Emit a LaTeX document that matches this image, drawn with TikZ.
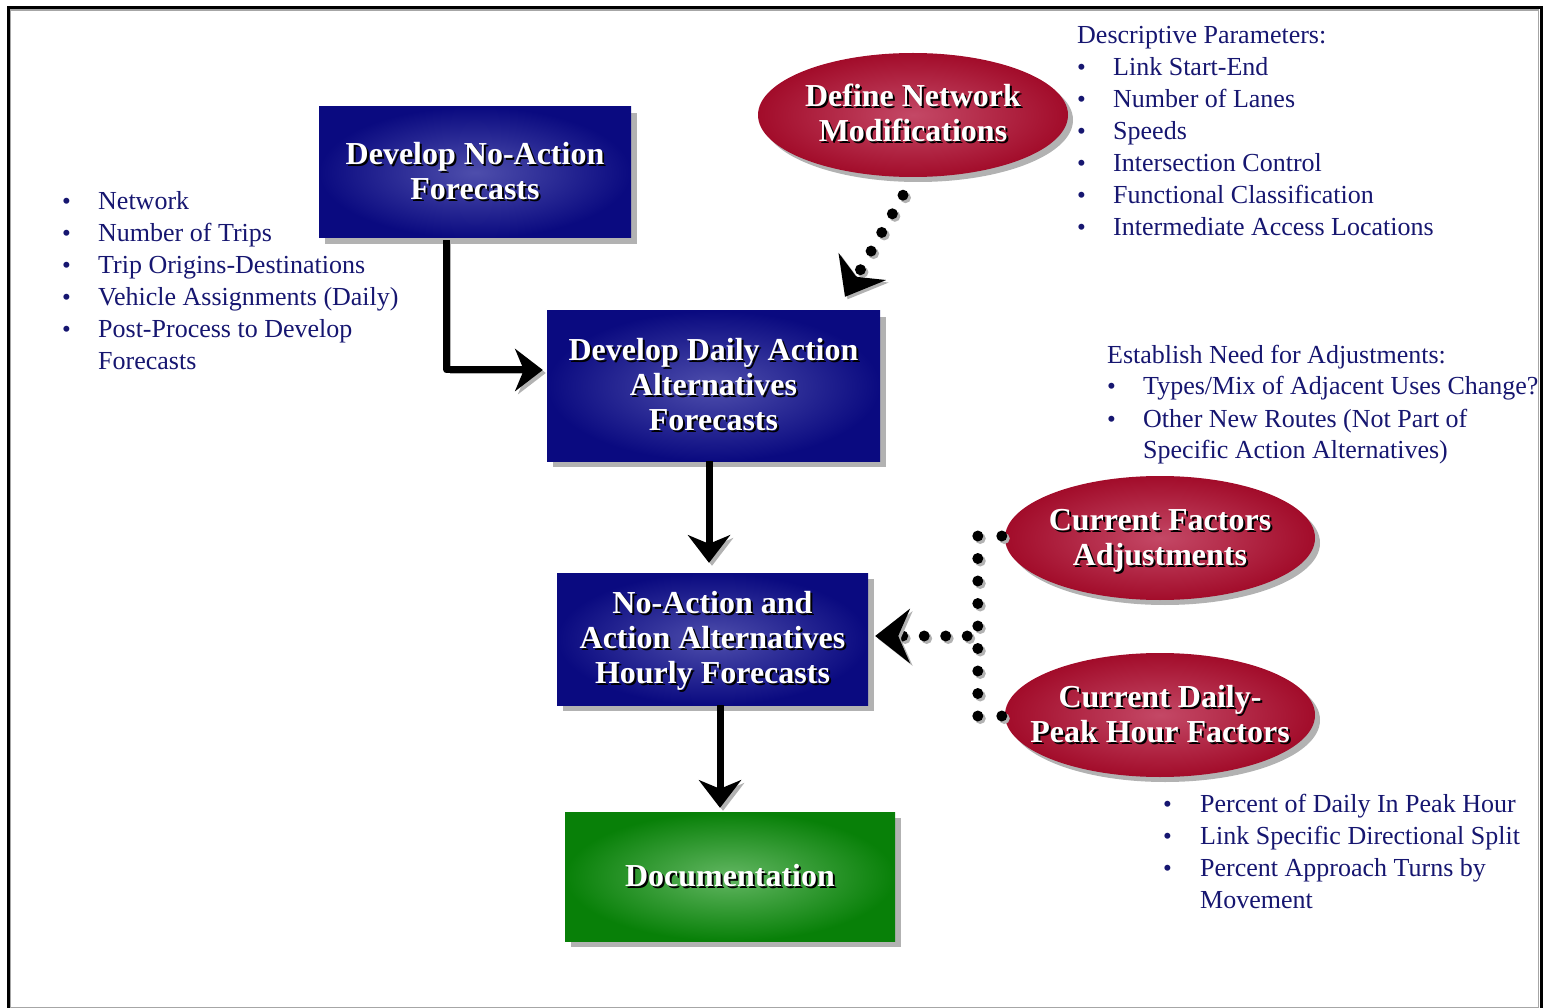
\documentclass[tikz,border=0pt]{standalone}
\usepackage{fontspec}
\setmainfont{Liberation Serif}
\usetikzlibrary{arrows.meta,calc,shapes.geometric,shadows}

\definecolor{navyout}{RGB}{10,10,128}
\definecolor{navyin}{RGB}{78,78,172}
\definecolor{redout}{RGB}{162,12,42}
\definecolor{redin}{RGB}{196,72,102}
\definecolor{greenout}{RGB}{8,128,8}
\definecolor{greenin}{RGB}{98,182,98}
\definecolor{listblue}{RGB}{22,22,112}

% white lettering with a black drop behind it
\newcommand\embossed[1]{\raisebox{0pt}[\dimexpr\height+7pt\relax][\depth]{%
  \rlap{\color{black}\kern2pt\raisebox{-2pt}{\begin{tabular}{@{}c@{}}#1\end{tabular}}}%
  \begin{tabular}{@{}c@{}}#1\end{tabular}}}
\newcommand\bul{{\fontsize{25}{25}\selectfont\textbullet}}

% the dotted feeds, drawn once for the shadow and once in black
\newcommand\feeddots{%
  \foreach \f in {0,0.1833,0.3666,0.55,0.7333}
    \fill ($(netstart)!\f!(nettip)$) circle[radius=5.5];
  \foreach \f in {0,0.125,...,1}
    \fill ($(forktop)!\f!(forkbot)$) circle[radius=5.5];
  \fill ($(forktop)+(24,0)$) circle[radius=5.5];
  \fill ($(forkbot)+(24,0)$) circle[radius=5.5];
  \foreach \f in {0,0.2337,0.4674,0.701}
    \fill ($(fork)!\f!(hourtip)$) circle[radius=5.5];
}

\tikzset{
  box/.style={inner sep=0pt, text=white, font=\fontsize{32}{35}\selectfont\bfseries},
  boxshade/.style={drop shadow={shadow xshift=#1, shadow yshift=-#1, fill=black!30, opacity=1}},
  bluebox/.style={box, rectangle, inner color=navyin, outer color=navyout, boxshade=6pt},
  greenbox/.style={box, rectangle, inner color=greenin, outer color=greenout, boxshade=6pt},
  redoval/.style={box, ellipse, minimum width=310, minimum height=124,
    inner color=redin, outer color=redout, boxshade=5pt},
  listtext/.style={inner sep=0pt, text=listblue, font=\fontsize{26}{32}\selectfont},
  flow/.style={line width=7pt, line join=round,
    -{Stealth[length=28pt, width=43pt, inset=9pt, line width=0pt]},
    preaction={draw=black!30, transform canvas={shift={(3pt,-3pt)}}}},
  feedtip/.style={line width=1pt,
    -{Stealth[length=35pt, width=55pt, inset=12pt, line width=0pt]},
    preaction={draw=black!30, transform canvas={shift={(2.5pt,-2.5pt)}}}}
}

\begin{document}
\begin{tikzpicture}[x=1pt, y=-1pt]
\useasboundingbox (0,0) rectangle (1551,1008);

% outer frame
\draw[black!35, line width=1.5pt] (10.5,10) rectangle (1538.5,1007.5);
\draw[line width=3pt] (8.5,7.5) rectangle (1541,1015);

% process boxes
\node[bluebox, minimum width=312, minimum height=131] (noact) at (475,172.5)
  {\embossed{Develop No-Action\\Forecasts}};
\node[bluebox, minimum width=333, minimum height=150] (daily) at (713.5,386)
  {\embossed{Develop Daily Action\\Alternatives\\Forecasts}};
\node[bluebox, minimum width=311, minimum height=132] (hourly) at (712.5,639)
  {\embossed{No-Action and\\Action Alternatives\\Hourly Forecasts}};
\node[greenbox, minimum width=330, minimum height=129] (doc) at (730,876.5)
  {\embossed{Documentation}};

% inputs (zero width text so the ovals keep their size)
\node[redoval] (netmod) at (913,115)
  {\makebox[0pt]{\embossed{Define Network\\Modifications}}};
\node[redoval] (curfac) at (1160,538)
  {\makebox[0pt]{\embossed{Current Factors\\Adjustments}}};
\node[redoval] (peak) at (1160,715)
  {\makebox[0pt]{\embossed{Current Daily-\\Peak Hour Factors}}};

% notes
\node[listtext, anchor=base west] (noactlist) at (62,210)
  {\begin{tabular}[t]{@{}p{36pt}@{}l@{}}
   \bul & Network\\
   \bul & Number of Trips\\
   \bul & Trip Origins-Destinations\\
   \bul & Vehicle Assignments (Daily)\\
   \bul & Post-Process to Develop\\
        & Forecasts
   \end{tabular}};
\node[listtext, anchor=base west] (netlist) at (1077,44)
  {\begin{tabular}[t]{@{}p{36pt}@{}l@{}}
   \multicolumn{2}{@{}l@{}}{Descriptive Parameters:}\\
   \bul & Link Start-End\\
   \bul & Number of Lanes\\
   \bul & Speeds\\
   \bul & Intersection Control\\
   \bul & Functional Classification\\
   \bul & Intermediate Access Locations
   \end{tabular}};
\node[listtext, anchor=base west] (needlist) at (1107,363)
  {\begin{tabular}[t]{@{}p{36pt}@{}l@{}}
   \multicolumn{2}{@{}l@{}}{Establish Need for Adjustments:}\\
   \bul & Types/Mix of Adjacent Uses Change?\\
   \bul & Other New Routes (Not Part of\\
        & Specific Action Alternatives)
   \end{tabular}};
\node[listtext, anchor=base west] (peaklist) at (1163,812)
  {\begin{tabular}[t]{@{}p{37pt}@{}l@{}}
   \bul & Percent of Daily In Peak Hour\\
   \bul & Link Specific Directional Split\\
   \bul & Percent Approach Turns by\\
        & Movement
   \end{tabular}};

% solid flow
\draw[flow] ($(noact.south west)+(128,2)$) |- ($(daily.west)+(-4,-16)$);
\draw[flow] ($(daily.south)+(-4.5,0)$) -- ($(hourly.north)+(-3.5,-10)$);
\draw[flow] ($(hourly.south)+(7.5,0)$) -- ($(doc.north)+(-10,-4)$);

% dotted feeds
\coordinate (netstart) at ($(netmod.south)+(-10,18)$);
\coordinate (nettip) at ($(daily.north)+(131.5,-14)$);
\coordinate (forktop) at ($(curfac.west)+(-27,-2)$);
\coordinate (forkbot) at ($(peak.west)+(-27,1)$);
\coordinate (fork) at ($(hourly.east)+(99,-3)$);
\coordinate (hourtip) at ($(hourly.east)+(7,-3)$);
\begin{scope}[black!30, transform canvas={shift={(2.5pt,-2.5pt)}}]
  \feeddots
\end{scope}
\feeddots
\draw[feedtip] ($(netstart)!0.8!(nettip)$) -- (nettip);
\draw[feedtip] ($(fork)!0.75!(hourtip)$) -- (hourtip);

\end{tikzpicture}
\end{document}
